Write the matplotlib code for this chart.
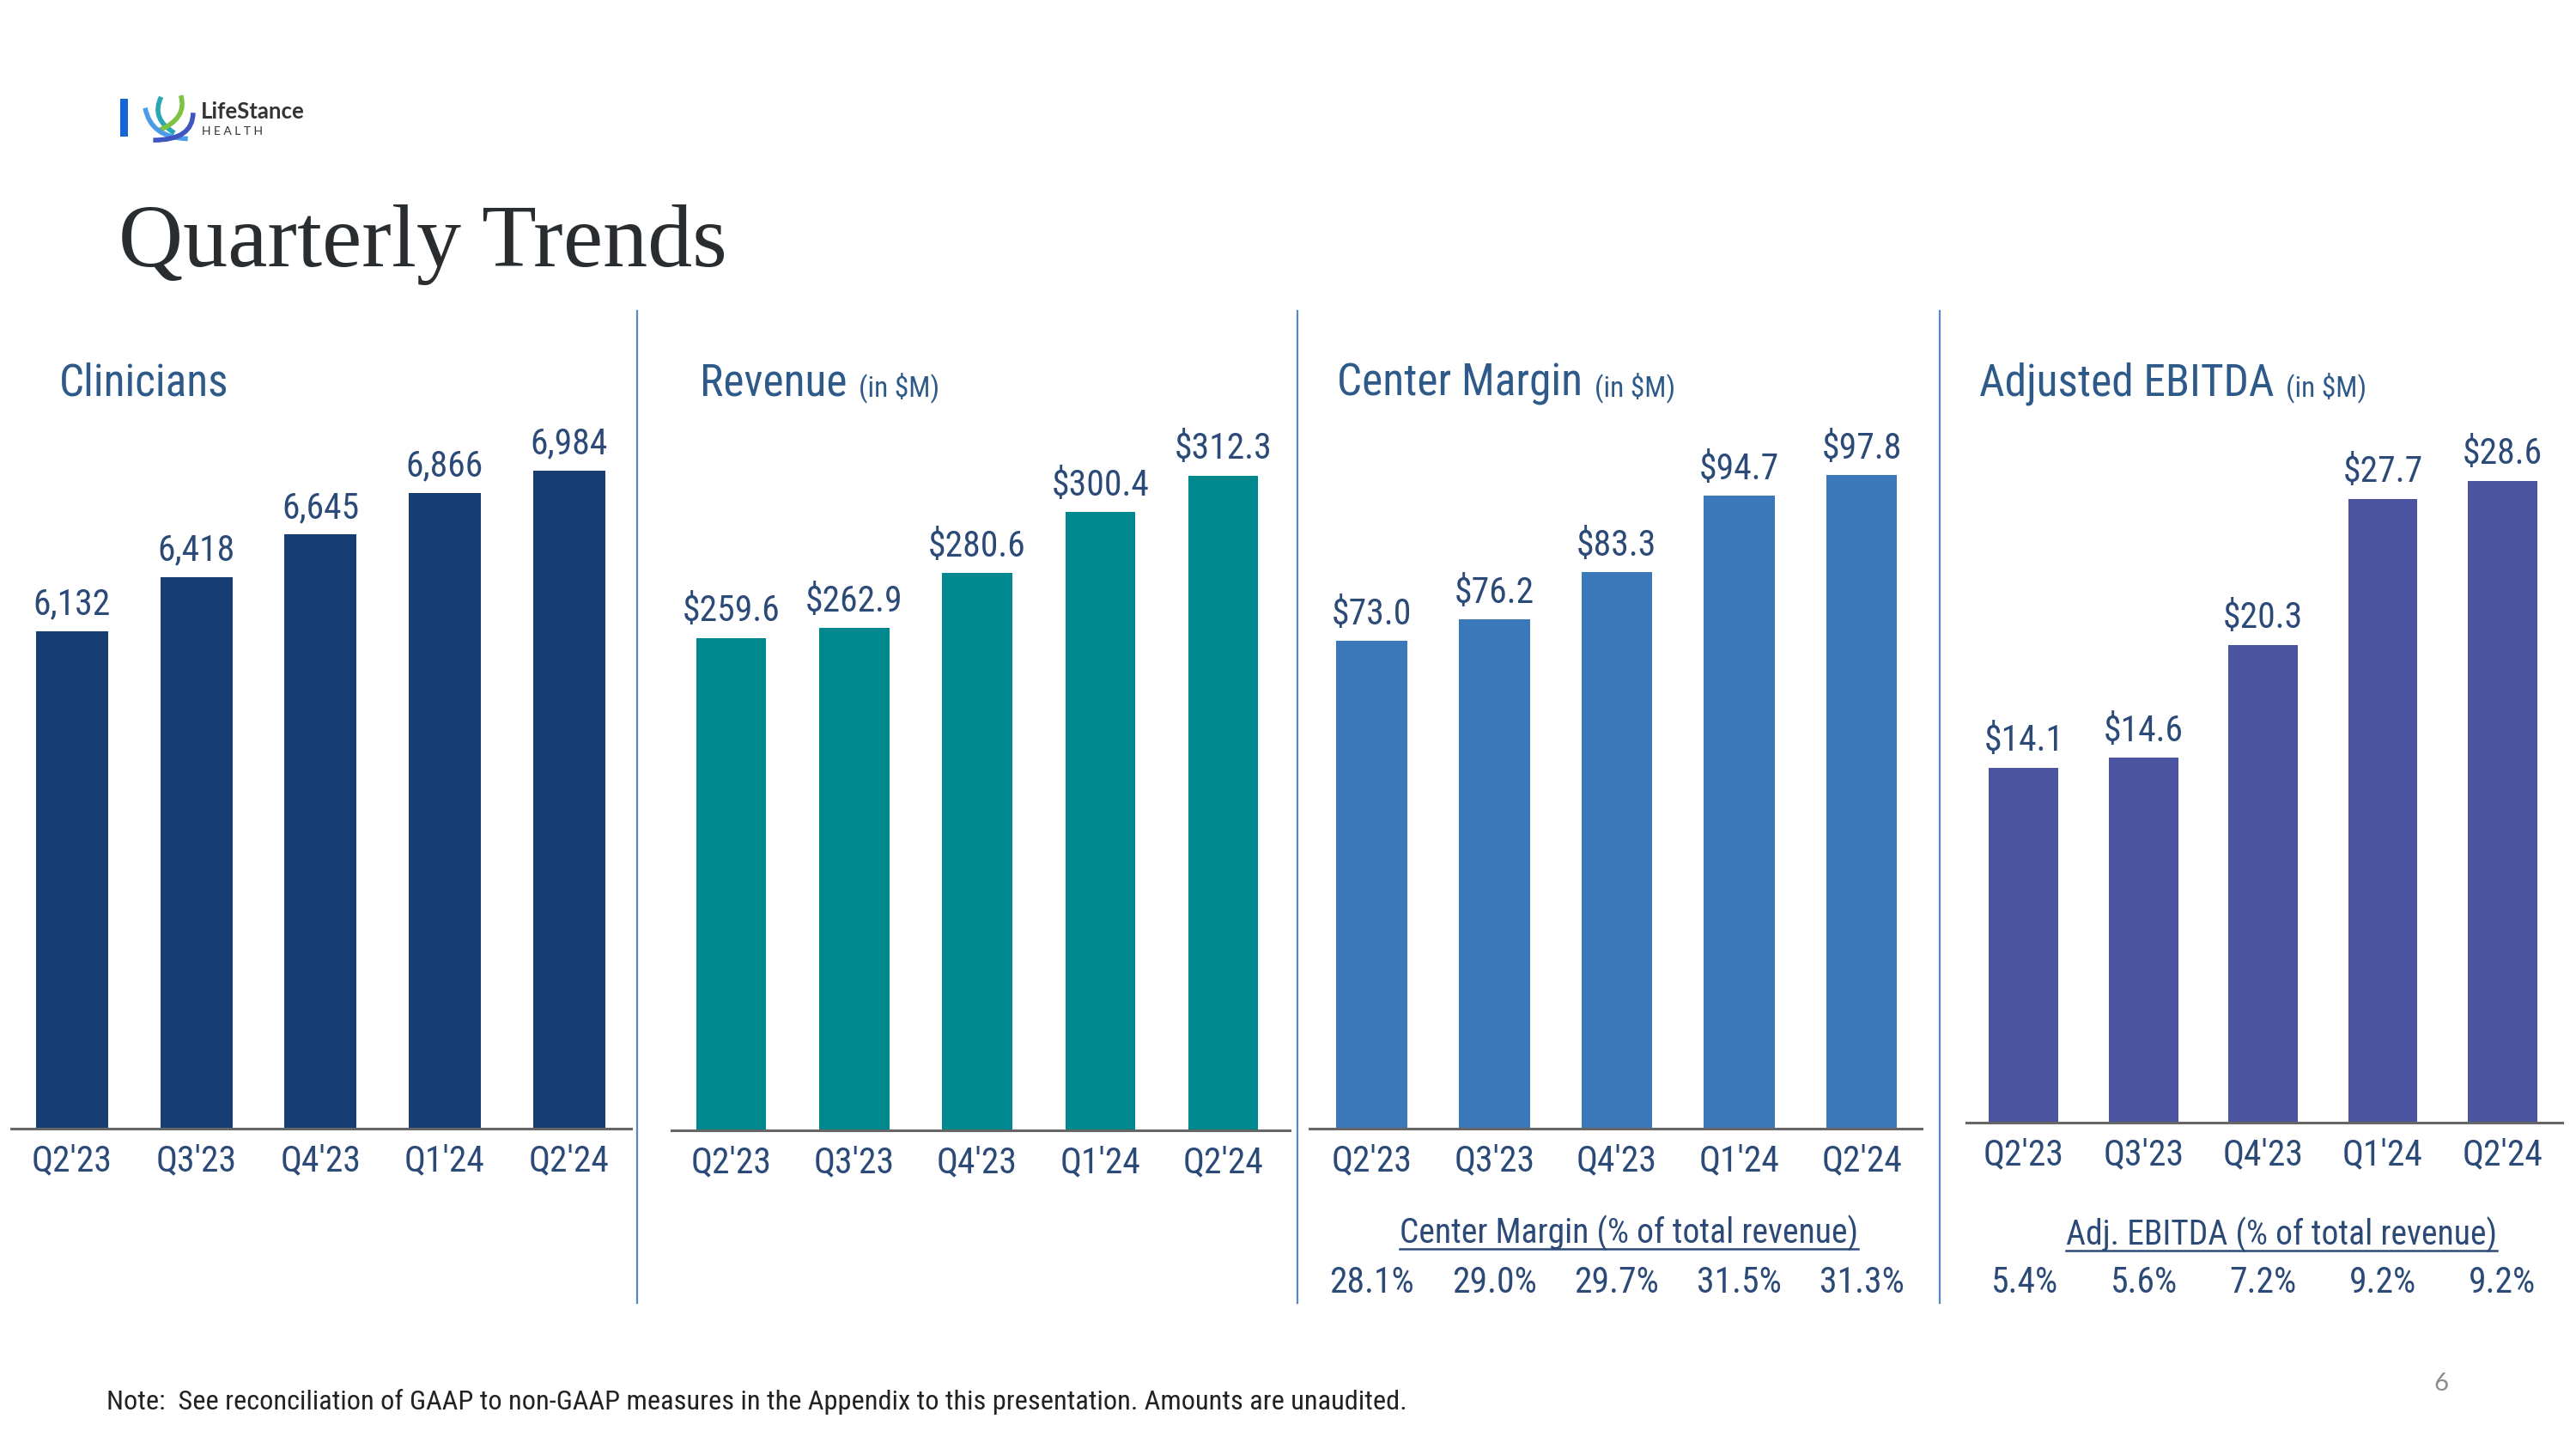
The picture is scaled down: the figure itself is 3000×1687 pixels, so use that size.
import matplotlib
matplotlib.use('Agg')
import matplotlib.pyplot as plt
from matplotlib import font_manager, transforms
from matplotlib.lines import Line2D
from matplotlib.path import Path
from matplotlib.patches import PathPatch, Rectangle

# ---------------- data ----------------
quarters = ["Q2'23", "Q3'23", "Q4'23", "Q1'24", "Q2'24"]
clinicians = [6132, 6418, 6645, 6866, 6984]
revenue = [259.6, 262.9, 280.6, 300.4, 312.3]
center_margin = [73.0, 76.2, 83.3, 94.7, 97.8]
adj_ebitda = [14.1, 14.6, 20.3, 27.7, 28.6]
center_margin_pct = [28.1, 29.0, 29.7, 31.5, 31.3]
adj_ebitda_pct = [5.4, 5.6, 7.2, 9.2, 9.2]

panel_titles = ["Clinicians", "Revenue", "Center Margin", "Adjusted EBITDA"]
panel_units = ["", "(in $M)", "(in $M)", "(in $M)"]
pct_titles = ["Center Margin (% of total revenue)", "Adj. EBITDA (% of total revenue)"]
title = "Quarterly Trends"
note = "Note:  See reconciliation of GAAP to non-GAAP measures in the Appendix to this presentation. Amounts are unaudited."
page_no = "6"

# ---------------- fonts ----------------
avail = {f.name for f in font_manager.fontManager.ttflist}


def pick(cands):
    for c in cands:
        if c in avail:
            return c
    return 'DejaVu Sans'


SANS = pick(['Liberation Sans Narrow', 'Roboto Condensed', 'Lato', 'Open Sans'])
SERIF = pick(['Liberation Serif', 'DejaVu Serif'])
LOGO = pick(['Lato', 'Open Sans', 'DejaVu Sans'])
plt.rcParams['font.family'] = [SANS, 'DejaVu Sans']

W, H = 3000, 1687
fig = plt.figure(figsize=(30, 16.87), dpi=100)
fig.patch.set_facecolor('white')


def fx(x):
    return x / W


def fy(y):
    return 1 - y / H


def px_axes(x0, x1, ytop, ybot):
    return fig.add_axes([fx(x0), fy(ybot), (x1 - x0) / W, (ybot - ytop) / H])


VAL_C = '#2C4A78'
HEAD_C = '#2E5A8A'

panels = [
    dict(vals=clinicians, fmt=lambda v: f"{v:,.0f}", color='#163E72', x0=13, x1=735, base=1314,
         xlim=(-0.49, 4.5), ylim=(3484, 7341), bw=0.58, hx=69),
    dict(vals=revenue, fmt=lambda v: f"${v:.1f}", color='#00888F', x0=782, x1=1502, base=1316,
         xlim=(-0.485, 4.54), ylim=(100, 335.6), bw=0.57, hx=815),
    dict(vals=center_margin, fmt=lambda v: f"${v:.1f}", color='#3B78B9', x0=1525, x1=2238, base=1314,
         xlim=(-0.51, 4.49), ylim=(0, 108.5), bw=0.58, hx=1557),
    dict(vals=adj_ebitda, fmt=lambda v: f"${v:.1f}", color='#4A54A0', x0=2290, x1=2984, base=1307,
         xlim=(-0.48, 4.5), ylim=(-3.85, 32.5), bw=0.58, hx=2305),
]

axes = []
for p in panels:
    ax = px_axes(p['x0'], p['x1'], 470, p['base'])
    ax.set_facecolor('none')
    xs = list(range(len(quarters)))
    y0 = p['ylim'][0]
    ax.bar(xs, [v - y0 for v in p['vals']], width=p['bw'], color=p['color'], bottom=y0)
    ax.set_xlim(*p['xlim'])
    ax.set_ylim(*p['ylim'])
    for s in ['left', 'right', 'top']:
        ax.spines[s].set_visible(False)
    ax.spines['bottom'].set_color('#666666')
    ax.spines['bottom'].set_linewidth(2.2)
    ax.set_yticks([])
    ax.set_xticks(xs)
    ax.set_xticklabels(quarters, fontsize=30, color=VAL_C)
    ax.tick_params(axis='x', length=0, pad=12.5)
    for i, v in enumerate(p['vals']):
        ax.annotate(p['fmt'](v), (i, v), xytext=(0, 14), textcoords='offset points',
                    ha='center', va='baseline', fontsize=30, color=VAL_C)
    axes.append(ax)

fig.canvas.draw()
renderer = fig.canvas.get_renderer()

# panel headers
for p, t, u in zip(panels, panel_titles, panel_units):
    tt = fig.text(fx(p['hx']), fy(461), t, fontsize=37, color=HEAD_C, ha='left', va='baseline')
    if u:
        bb = tt.get_window_extent(renderer)
        fig.text(fx(bb.x1 + 14), fy(461), u, fontsize=24, color=HEAD_C, ha='left', va='baseline')

# separators
for x in [742, 1511, 2259]:
    fig.add_artist(Line2D([fx(x), fx(x)], [fy(362), fy(1517)], color='#5A86C2', lw=1.6))

# percentage rows
for ax, sub, vals, cx, sy in [(axes[2], pct_titles[0], center_margin_pct, 1897, 1448),
                             (axes[3], pct_titles[1], adj_ebitda_pct, 2657, 1450)]:
    st = fig.text(fx(cx), fy(sy), sub, fontsize=28.5, color=VAL_C, ha='center', va='baseline')
    bb = st.get_window_extent(renderer)
    fig.add_artist(Line2D([fx(bb.x0), fx(bb.x1)], [fy(sy + 6), fy(sy + 6)], color=VAL_C, lw=1.8))
    tr = transforms.blended_transform_factory(ax.transData, fig.transFigure)
    for i, v in enumerate(vals):
        ax.text(i, fy(1505), f"{v:.1f}%", transform=tr, fontsize=30, color=VAL_C,
                ha='center', va='baseline')

# title
fig.text(fx(138), fy(310), title, fontsize=75, family=SERIF, color='#2A2D30', ha='left', va='baseline')

# footnote and page number
fig.text(fx(124), fy(1641), note, fontsize=23.3, color='#222222', ha='left', va='baseline')
fig.text(fx(2843), fy(1611), page_no, fontsize=21, family=LOGO, color='#8C8C8C', ha='center', va='center')

# logo
fig.add_artist(Rectangle((fx(140), fy(159)), 9 / W, 44 / H, transform=fig.transFigure,
                         facecolor='#1565D8', edgecolor='none'))
fig.text(fx(234), fy(138), "LifeStance", fontsize=18.5, family=LOGO, fontweight='bold',
         color='#333333', ha='left', va='baseline')
fig.text(fx(235), fy(157), "H E A L T H", fontsize=10, family=LOGO, color='#333333', ha='left', va='baseline')
iax = px_axes(166, 228, 110, 166)
iax.set_xlim(0, 1)
iax.set_ylim(0, 1)
iax.axis('off')
strokes = [
    ([(0.35, 0.95), (0.15, 0.5), (0.6, 0.2)], '#2AA7B5'),
    ([(0.72, 0.98), (0.85, 0.5), (0.3, 0.25)], '#7DC242'),
    ([(0.05, 0.72), (0.15, 0.1), (0.85, 0.08)], '#4C9BE8'),
    ([(0.95, 0.62), (0.95, 0.05), (0.2, 0.05)], '#3F55C0'),
]
for pts, c in strokes:
    path = Path(pts, [Path.MOVETO, Path.CURVE3, Path.CURVE3])
    iax.add_patch(PathPatch(path, facecolor='none', edgecolor=c, lw=4, capstyle='butt'))

fig.savefig('out.png', dpi=100, facecolor='white')
